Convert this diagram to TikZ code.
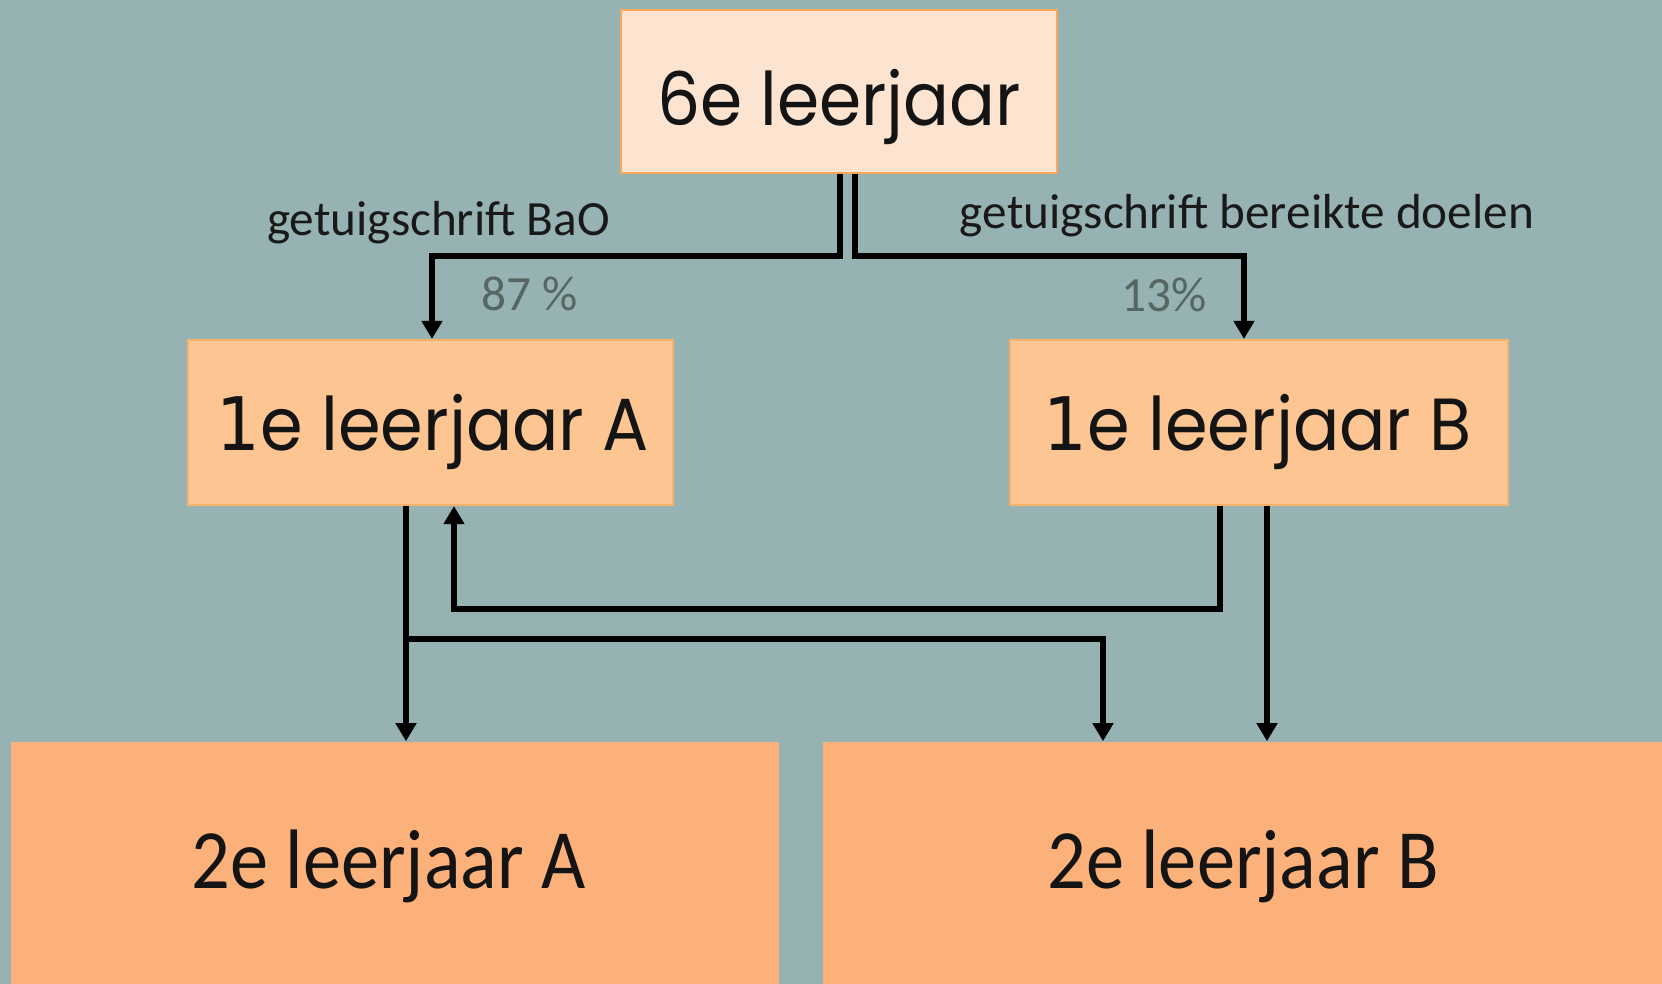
\documentclass[tikz,border=0pt]{standalone}
\usepackage{fontspec}
\setmainfont{Carlito}
\newfontfamily\geofont{Poppins}
\newfontfamily\djv{DejaVu Sans}
\usetikzlibrary{arrows.meta,calc}
\definecolor{bgc}{RGB}{151,178,179}
\definecolor{topfill}{RGB}{253,228,208}
\definecolor{midfill}{RGB}{252,197,146}
\definecolor{botfill}{RGB}{252,177,123}
\definecolor{edgeor}{RGB}{248,168,88}
\definecolor{pctgray}{RGB}{86,102,98}
\newcommand{\one}{{\djv 1}}
\tikzset{
  topbox/.style={rectangle, fill=topfill, draw=edgeor, line width=0.6pt, inner sep=0pt},
  midbox/.style={rectangle, fill=midfill, draw=edgeor!70!midfill, line width=0.6pt, inner sep=0pt},
  botbox/.style={rectangle, fill=botfill, inner sep=0pt},
  bigtxt/.style={font=\geofont\fontsize{21}{24}\selectfont, text=black!92, anchor=base, inner sep=0pt},
  bottxt/.style={font=\fontsize{24}{28}\selectfont, text=black!92, anchor=base, inner sep=0pt},
  lbl/.style={font=\fontsize{14}{17}\selectfont, text=black!90, anchor=base, inner sep=0pt},
  pct/.style={font=\fontsize{14}{17}\selectfont, text=pctgray, anchor=base, inner sep=0pt},
  arr/.style={line width=1.5pt, -{Triangle[length=0.18cm,width=0.2cm]}},
}
\begin{document}
\begin{tikzpicture}[x=0.01cm,y=-0.01cm]
\useasboundingbox (0,0) rectangle (1662,984);
\fill[bgc] (0,0) rectangle (1662,984);
% boxes
\node[topbox, minimum width=4.36cm, minimum height=1.63cm] (top) at (839,91.5) {};
\node[midbox, minimum width=4.85cm, minimum height=1.65cm] (A1) at (430.5,422.5) {};
\node[midbox, minimum width=4.98cm, minimum height=1.65cm] (B1) at (1259,422.5) {};
\node[botbox, minimum width=7.68cm, minimum height=2.42cm] (A2) at (395,863) {};
\node[botbox, minimum width=8.39cm, minimum height=2.42cm] (B2) at (1242.5,863) {};
% box texts
\node[bigtxt] (topt) at (839,125) {\scalebox{0.92}[1]{6e leerjaar}};
\node[bigtxt] (A1t) at (433,450) {\scalebox{0.93}[1]{\one e leerjaar A}};
\node[bigtxt] (B1t) at (1258,450) {\scalebox{0.93}[1]{\one e leerjaar B}};
\node[bottxt] (A2t) at (388.5,888) {\scalebox{0.905}[1]{2e leerjaar A}};
\node[bottxt] (B2t) at (1243,888) {\scalebox{0.905}[1]{2e leerjaar B}};
% labels
\node[lbl] (lBaO) at (438.5,235) {getuigschrift BaO};
\node[lbl] (lDoel) at (1247,228) {getuigschrift bereikte doelen};
\node[pct] (p87) at (530,310) {87 \%};
\node[pct] (p13) at (1164,311) {13\%};
% connectors
\draw[arr] ($(top.south)+(1,0)$) |- ($(A1.north)+(1.5,-83)$) -- ($(A1.north)+(1.5,0)$);
\draw[arr] ($(top.south)+(16,0)$) |- ($(B1.north)+(-15,-83)$) -- ($(B1.north)+(-15,0)$);
\coordinate (a1out) at ($(A1.south)+(-24.5,0)$);
\coordinate (split) at ($(a1out)+(0,133)$);
\draw[arr] (a1out) -- (a1out |- A2.north);
\draw[arr] (split) -| ($(B2.north)+(-139.5,0)$);
\draw[arr] ($(B1.south)+(-39,0)$) |- ($(A1.south)+(23.5,103)$) -- ($(A1.south)+(23.5,0)$);
\coordinate (b1out) at ($(B1.south)+(8,0)$);
\draw[arr] (b1out) -- (b1out |- B2.north);
\end{tikzpicture}
\end{document}
